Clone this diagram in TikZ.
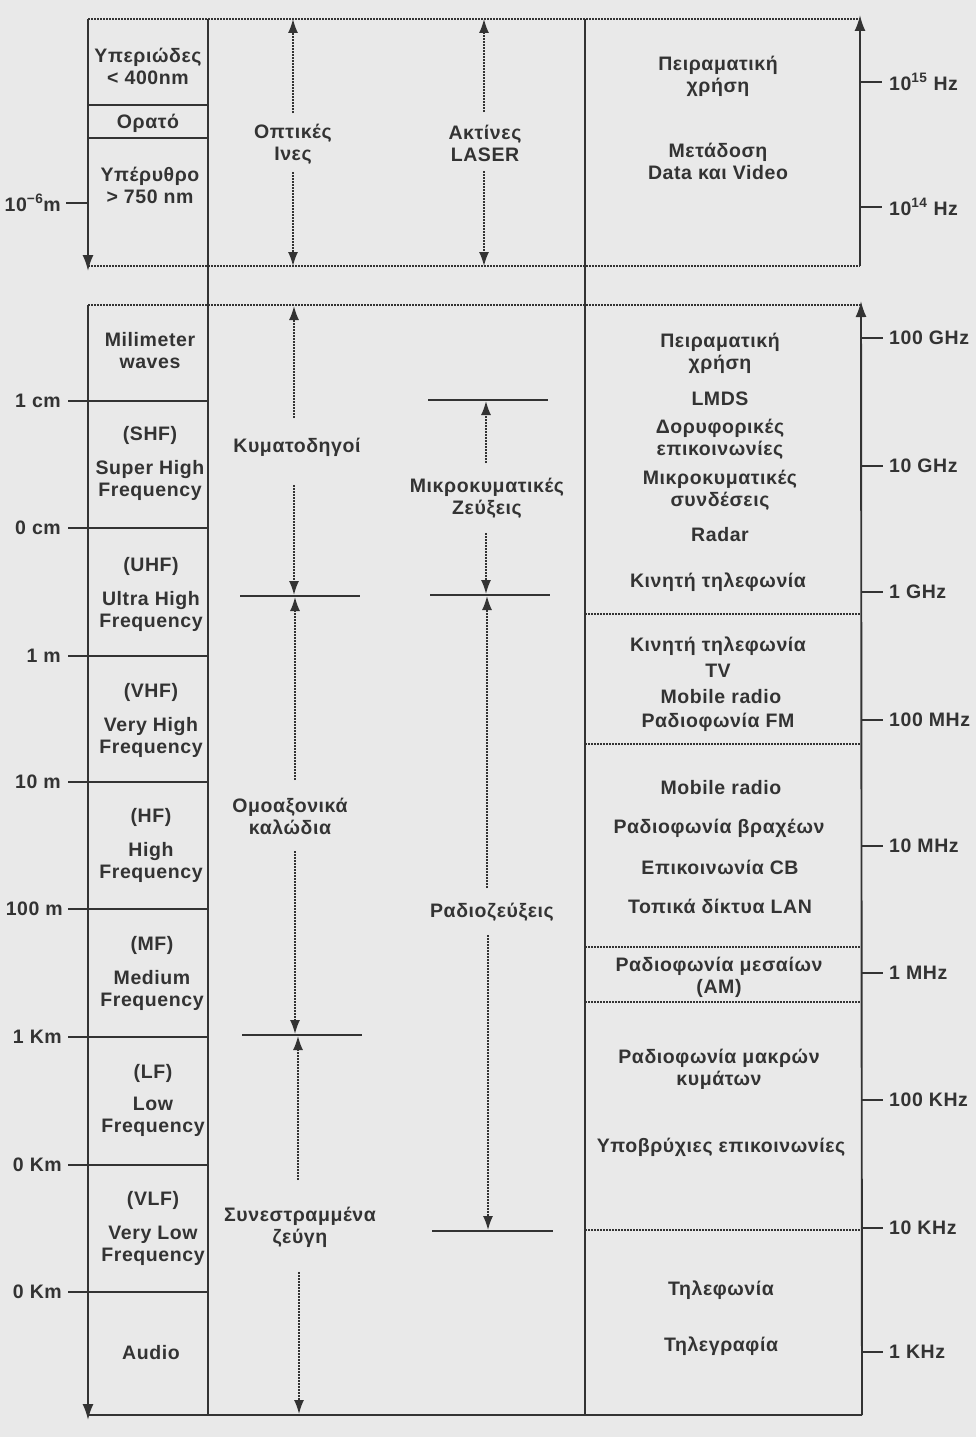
\documentclass[tikz,border=0pt]{standalone}
\usepackage{fontspec}
\setmainfont{Liberation Sans}[LetterSpace=3]
\usetikzlibrary{arrows.meta}
\definecolor{ink}{HTML}{333333}
\definecolor{paper}{HTML}{E9E9E9}
\begin{document}
\begin{tikzpicture}[x=1pt,y=-1pt,
  lbl/.style={text=ink, font=\fontsize{19.5}{22}\selectfont\bfseries, align=center, inner sep=0pt},
  lblw/.style={lbl, anchor=west},
  lble/.style={lbl, anchor=east},
  axisline/.style={draw=ink, line width=1.9pt},
  colline/.style={draw=ink, line width=1.6pt},
  sepline/.style={draw=ink, line width=1.5pt},
  dotline/.style={draw=ink, line width=1.6pt, dash pattern=on 1.6pt off 1.4pt},
  tipend/.style={-{Latex[length=16pt,width=11pt]}},
  smalltip/.style={-{Latex[length=14pt,width=10pt]}},
]
\useasboundingbox (0,0) rectangle (976,1437);
\fill[paper] (0,0) rectangle (976,1437);

% ---------- TOP BLOCK ----------
\coordinate (tTL) at (88,19);
\coordinate (tTR) at (860,19);
\coordinate (tBL) at (88,266);
\coordinate (tBR) at (860,266);
\coordinate (tBLtip) at (88,271);
\coordinate (tTRtip) at (860,15);
\draw[dotline] (tTL) -- (tTR);
\draw[dotline] (tBL) -- (tBR);
\draw[axisline,tipend] (tTL) -- (tBLtip);
\draw[axisline,tipend] (tBR) -- (tTRtip);

% column lines (full height)
\coordinate (c1t) at (208,19);
\coordinate (c1b) at (208,1415);
\coordinate (c2t) at (585,19);
\coordinate (c2b) at (585,1415);
\draw[colline] (c1t) -- (c1b);
\draw[colline] (c2t) -- (c2b);

% top-left separators
\coordinate (s1a) at (88,105); \coordinate (s1b) at (208,105);
\coordinate (s2a) at (88,138); \coordinate (s2b) at (208,138);
\draw[sepline] (s1a) -- (s1b);
\draw[sepline] (s2a) -- (s2b);
\coordinate (tk6a) at (66,203); \coordinate (tk6b) at (88,203);
\draw[sepline] (tk6a) -- (tk6b);
\node[lble] (lm6) at (61,203) {10\textsuperscript{−6}m};

\node[lbl] (uv) at (148,66) {Υπεριώδες\\< 400nm};
\node[lbl] (vis) at (148,123) {Ορατό};
\node[lbl] (ir) at (150,185) {Υπέρυθρο\\> 750 nm};

% optical fibres / laser
\node[lbl] (opt) at (293,144) {Οπτικές\\Ινες};
\node[lbl] (las) at (485,143) {Ακτίνες\\LASER};
\coordinate (optu) at (293,113); \coordinate (optut) at (293,19);
\coordinate (optd) at (293,172); \coordinate (optdt) at (293,266);
\draw[dotline,smalltip] (optu) -- (optut);
\draw[dotline,smalltip] (optd) -- (optdt);
\coordinate (lasu) at (484,112); \coordinate (lasut) at (484,19);
\coordinate (lasd) at (484,171); \coordinate (lasdt) at (484,266);
\draw[dotline,smalltip] (lasu) -- (lasut);
\draw[dotline,smalltip] (lasd) -- (lasdt);

\node[lbl] (exp1) at (718,76) {Πειραματική\\χρήση};
\node[lbl] (data) at (718,161) {Μετάδοση\\Data και Video};

\coordinate (tk15a) at (860,82); \coordinate (tk15b) at (882,82);
\coordinate (tk14a) at (860,207); \coordinate (tk14b) at (882,207);
\draw[sepline] (tk15a) -- (tk15b);
\draw[sepline] (tk14a) -- (tk14b);
\node[lblw] (hz15) at (889,82) {10\textsuperscript{15} Hz};
\node[lblw] (hz14) at (889,207) {10\textsuperscript{14} Hz};

% ---------- BOTTOM BLOCK ----------
\coordinate (bTL) at (88,305);
\coordinate (bTR) at (861,305);
\coordinate (bBL) at (88,1415);
\coordinate (bBR) at (862,1415);
\coordinate (bBLtip) at (88,1420);
\coordinate (bTRtip) at (861,301);
\draw[dotline] (bTL) -- (bTR);
\draw[axisline] (bBL) -- (bBR);
\draw[axisline,tipend] (bTL) -- (bBLtip);
\draw[axisline,tipend] (bBR) -- (bTRtip);

% left separators with wavelength ticks
\foreach \yy/\nm in {401/a,528/b,656/c,782/d,909/e,1037/f,1165/g,1292/h}{
  \coordinate (ls\nm a) at (68,\yy);
  \coordinate (ls\nm b) at (208,\yy);
  \draw[sepline] (ls\nm a) -- (ls\nm b);
}
\node[lble] (w1) at (61,401) {1 cm};
\node[lble] (w2) at (61,528) {0 cm};
\node[lble] (w3) at (61,656) {1 m};
\node[lble] (w4) at (61,782) {10 m};
\node[lble] (w5) at (63,909) {100 m};
\node[lble] (w6) at (62,1037) {1 Km};
\node[lble] (w7) at (62,1165) {0 Km};
\node[lble] (w8) at (62,1292) {0 Km};

% band names
\node[lbl] (mm) at (150,351) {Milimeter\\waves};
\node[lbl] (shf) at (150,463) {(SHF)\\[12pt]Super High\\Frequency};
\node[lbl] (uhf) at (151,594) {(UHF)\\[12pt]Ultra High\\Frequency};
\node[lbl] (vhf) at (151,720) {(VHF)\\[12pt]Very High\\Frequency};
\node[lbl] (hf) at (151,845) {(HF)\\[12pt]High\\Frequency};
\node[lbl] (mf) at (152,973) {(MF)\\[12pt]Medium\\Frequency};
\node[lbl] (lf) at (153,1100) {(LF)\\[10pt]Low\\Frequency};
\node[lbl] (vlf) at (153,1228) {(VLF)\\[12pt]Very Low\\Frequency};
\node[lbl] (aud) at (151,1353) {Audio};

% transmission media column
\coordinate (h1a) at (240,596); \coordinate (h1b) at (360,596);
\coordinate (h2a) at (242,1035); \coordinate (h2b) at (362,1035);
\coordinate (h3a) at (428,400); \coordinate (h3b) at (548,400);
\coordinate (h4a) at (430,595); \coordinate (h4b) at (550,595);
\coordinate (h5a) at (432,1231); \coordinate (h5b) at (553,1231);
\draw[sepline] (h1a) -- (h1b);
\draw[sepline] (h2a) -- (h2b);
\draw[sepline] (h3a) -- (h3b);
\draw[sepline] (h4a) -- (h4b);
\draw[sepline] (h5a) -- (h5b);

\node[lbl] (kym) at (297,447) {Κυματοδηγοί};
\node[lbl] (omo) at (290,816) {Ομοαξονικά\\καλώδια};
\node[lbl] (syn) at (300,1227) {Συνεστραμμένα\\ζεύγη};
\node[lbl] (mik) at (487,498) {Μικροκυματικές\\Ζεύξεις};
\node[lbl] (rad) at (492,912) {Ραδιοζεύξεις};

\coordinate (k1) at (294,418); \coordinate (k1t) at (294,306);
\coordinate (k2) at (294,485); \coordinate (k2t) at (294,595);
\draw[dotline,smalltip] (k1) -- (k1t);
\draw[dotline,smalltip] (k2) -- (k2t);
\coordinate (o1) at (295,780); \coordinate (o1t) at (295,597);
\coordinate (o2) at (295,851); \coordinate (o2t) at (295,1034);
\draw[dotline,smalltip] (o1) -- (o1t);
\draw[dotline,smalltip] (o2) -- (o2t);
\coordinate (y1) at (298,1180); \coordinate (y1t) at (298,1036);
\coordinate (y2) at (299,1272); \coordinate (y2t) at (299,1414);
\draw[dotline,smalltip] (y1) -- (y1t);
\draw[dotline,smalltip] (y2) -- (y2t);
\coordinate (m1) at (486,463); \coordinate (m1t) at (486,401);
\coordinate (m2) at (486,533); \coordinate (m2t) at (486,594);
\draw[dotline,smalltip] (m1) -- (m1t);
\draw[dotline,smalltip] (m2) -- (m2t);
\coordinate (r1) at (487,888); \coordinate (r1t) at (487,596);
\coordinate (r2) at (488,935); \coordinate (r2t) at (488,1230);
\draw[dotline,smalltip] (r1) -- (r1t);
\draw[dotline,smalltip] (r2) -- (r2t);

% applications column separators
\foreach \yy/\nm in {614/a,744/b,947/c,1002/d,1230/e}{
  \coordinate (as\nm a) at (585,\yy);
  \coordinate (as\nm b) at (861,\yy);
  \draw[dotline] (as\nm a) -- (as\nm b);
}

\node[lbl] (ap1) at (720,353) {Πειραματική\\χρήση};
\node[lbl] (ap2) at (720,399) {LMDS};
\node[lbl] (ap3) at (720,439) {Δορυφορικές\\επικοινωνίες};
\node[lbl] (ap4) at (720,490) {Μικροκυματικές\\συνδέσεις};
\node[lbl] (ap5) at (720,535) {Radar};
\node[lbl] (ap6) at (718,582) {Κινητή τηλεφωνία};
\node[lbl] (ap7) at (718,646) {Κινητή τηλεφωνία};
\node[lbl] (ap8) at (718,671) {TV};
\node[lbl] (ap9) at (721,697) {Mobile radio};
\node[lbl] (ap10) at (718,722) {Ραδιοφωνία FM};
\node[lbl] (ap11) at (721,788) {Mobile radio};
\node[lbl] (ap12) at (719,828) {Ραδιοφωνία βραχέων};
\node[lbl] (ap13) at (720,867) {Επικοινωνία CB};
\node[lbl] (ap14) at (720,906) {Τοπικά δίκτυα LAN};
\node[lbl] (ap15) at (719,977) {Ραδιοφωνία μεσαίων\\(AM)};
\node[lbl] (ap16) at (719,1069) {Ραδιοφωνία μακρών\\κυμάτων};
\node[lbl] (ap17) at (721,1147) {Υποβρύχιες επικοινωνίες};
\node[lbl] (ap18) at (721,1290) {Τηλεφωνία};
\node[lbl] (ap19) at (721,1346) {Τηλεγραφία};

% frequency ticks
\foreach \yy/\nm/\txt in {338/a/100 GHz,466/b/10 GHz,592/c/1 GHz,720/d/100 MHz,846/e/10 MHz,973/f/1 MHz,1100/g/100 KHz,1228/h/10 KHz,1352/i/1 KHz}{
  \coordinate (ft\nm a) at (861,\yy);
  \coordinate (ft\nm b) at (883,\yy);
  \draw[sepline] (ft\nm a) -- (ft\nm b);
  \node[lblw] (fl\nm) at (889,\yy) {\txt};
}
\end{tikzpicture}
\end{document}
